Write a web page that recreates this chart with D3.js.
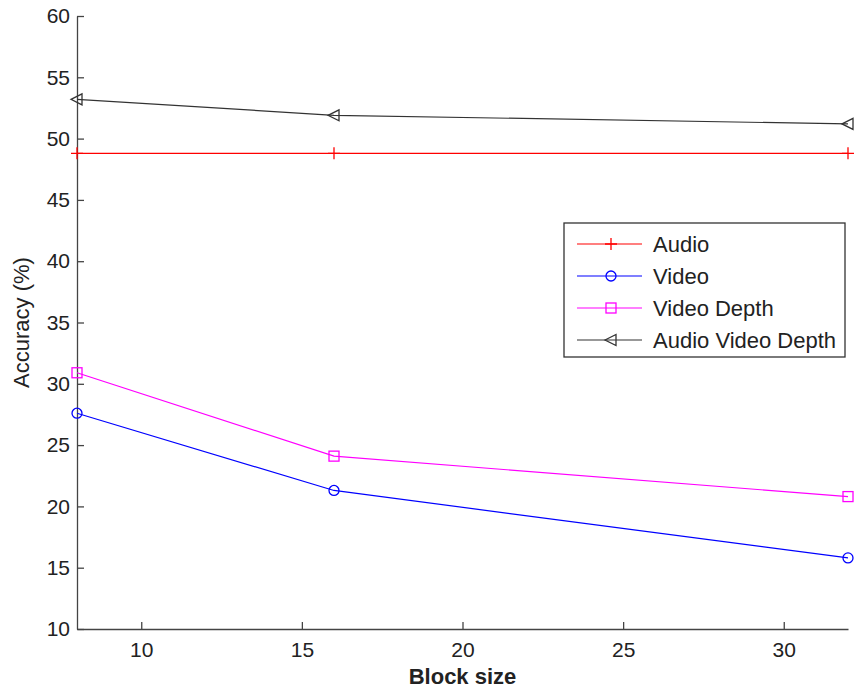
<!DOCTYPE html>
<html>
<head>
<meta charset="utf-8">
<script src="https://cdn.jsdelivr.net/npm/d3@7"></script>
<style>
  body { margin: 0; background: #fff; }
  text { font-family: "Liberation Sans", Arial, sans-serif; fill: #222; }
</style>
</head>
<body>
<div id="chart"></div>
<script>
const blockSizes = [8, 16, 32]
const audio = [48.8, 48.8, 48.8]
const video = [27.6, 21.3, 15.8]
const videoDepth = [30.9, 24.1, 20.8]
const audioVideoDepth = [53.2, 51.9, 51.2]
const xTicks = [10, 15, 20, 25, 30]
const yTicks = [10, 15, 20, 25, 30, 35, 40, 45, 50, 55, 60]

const width = 855, height = 692
const margin = { top: 16, right: 7, bottom: 63, left: 77 }

const series = [
    { name: 'Audio', values: audio, color: '#ff0000', marker: 'plus' },
    { name: 'Video', values: video, color: '#0000ff', marker: 'circle' },
    { name: 'Video Depth', values: videoDepth, color: '#ff00ff', marker: 'square' },
    { name: 'Audio Video Depth', values: audioVideoDepth, color: '#333333', marker: 'triangle' },
]

const svg = d3.select('#chart')
    .append('svg')
    .attr('width', width)
    .attr('height', height)

const x = d3.scaleLinear()
    .domain([8, 32])
    .range([margin.left, width - margin.right])

const y = d3.scaleLinear()
    .domain([10, 60])
    .range([height - margin.bottom, margin.top])

// axes, ticks pointing inwards like matlab
svg.append('g')
    .attr('transform', `translate(0,${height - margin.bottom})`)
    .call(d3.axisBottom(x).tickValues(xTicks).tickSizeInner(-7).tickSizeOuter(0).tickPadding(13))
    .call(g => g.selectAll('text').attr('font-size', 21))

svg.append('g')
    .attr('transform', `translate(${margin.left},0)`)
    .call(d3.axisLeft(y).tickValues(yTicks).tickSizeInner(-7).tickSizeOuter(0).tickPadding(7))
    .call(g => g.selectAll('text').attr('font-size', 21))

svg.selectAll('.domain, .tick line').attr('stroke', '#444').attr('stroke-width', 1.3)

svg.append('text')
    .attr('x', (margin.left + width - margin.right) / 2)
    .attr('y', 684)
    .attr('text-anchor', 'middle')
    .attr('font-size', 22)
    .attr('font-weight', 'bold')
    .text('Block size')

svg.append('text')
    .attr('transform', `translate(29,${(margin.top + height - margin.bottom) / 2}) rotate(-90)`)
    .attr('text-anchor', 'middle')
    .attr('font-size', 22)
    .text('Accuracy (%)')

function drawMarker(g, type, color) {
    if (type === 'plus') {
        g.append('path').attr('d', 'M-6,0H6M0,-6V6')
            .attr('stroke', color).attr('stroke-width', 1.3)
    } else if (type === 'circle') {
        g.append('circle').attr('r', 5)
            .attr('fill', 'none').attr('stroke', color).attr('stroke-width', 1.3)
    } else if (type === 'square') {
        g.append('rect').attr('x', -5).attr('y', -5).attr('width', 10).attr('height', 10)
            .attr('fill', 'none').attr('stroke', color).attr('stroke-width', 1.3)
    } else {
        g.append('path').attr('d', 'M-6,0L5,-5.5L5,5.5Z')
            .attr('fill', 'none').attr('stroke', color).attr('stroke-width', 1.3)
    }
}

const line = d3.line()
    .x((d, i) => x(blockSizes[i]))
    .y(d => y(d))

series.forEach(s => {
    svg.append('path')
        .datum(s.values)
        .attr('fill', 'none')
        .attr('stroke', s.color)
        .attr('stroke-width', 1.2)
        .attr('d', line)

    s.values.forEach((v, i) => {
        const g = svg.append('g').attr('transform', `translate(${x(blockSizes[i])},${y(v)})`)
        drawMarker(g, s.marker, s.color)
    })
})

// legend
const legend = svg.append('g').attr('transform', 'translate(564,223)')
legend.append('rect')
    .attr('width', 281).attr('height', 134)
    .attr('fill', '#fff').attr('stroke', '#333').attr('stroke-width', 1.3)

series.forEach((s, i) => {
    const ly = 21 + i * 32
    legend.append('line')
        .attr('x1', 13).attr('x2', 78).attr('y1', ly).attr('y2', ly)
        .attr('stroke', s.color).attr('stroke-width', 1.2)
    drawMarker(legend.append('g').attr('transform', `translate(47,${ly})`), s.marker, s.color)
    legend.append('text')
        .attr('x', 89).attr('y', ly)
        .attr('dy', '0.36em')
        .attr('font-size', 22)
        .text(s.name)
})
</script>
</body>
</html>
